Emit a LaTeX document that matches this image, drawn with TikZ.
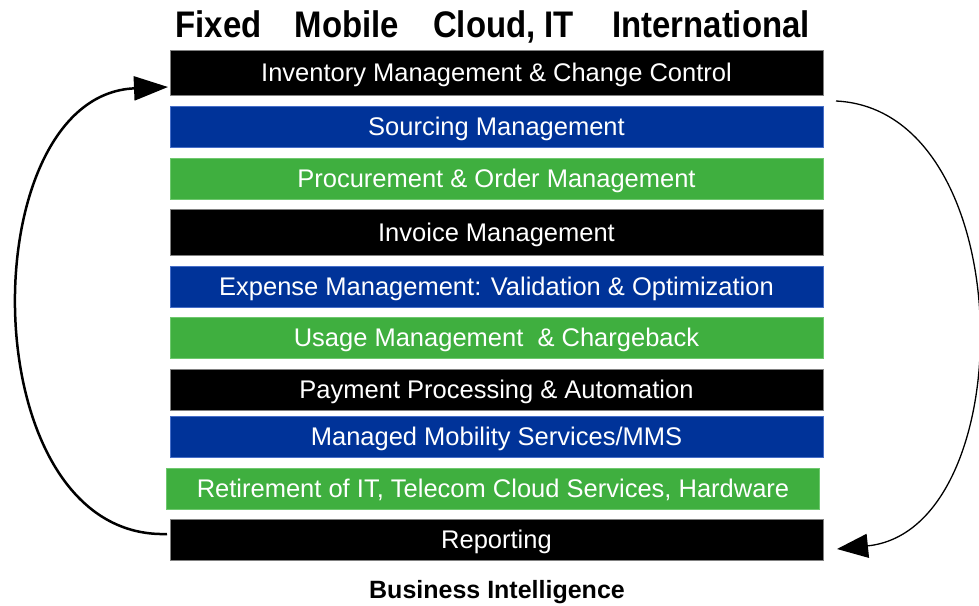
\documentclass[tikz,border=0pt]{standalone}
\usepackage{fontspec}
\setmainfont{Liberation Sans}
\newfontfamily\headfont[FakeStretch=0.89]{Liberation Sans}
\usetikzlibrary{arrows.meta}
\definecolor{bblue}{RGB}{0,51,153}
\definecolor{bgreen}{RGB}{63,175,63}
\definecolor{bblueline}{RGB}{70,110,200}
\definecolor{bgreenline}{RGB}{110,200,110}
\tikzset{
  bar/.style={minimum width=653pt, minimum height=41pt, inner sep=0pt,
    text=white, font=\fontsize{25.5}{27}\selectfont, text height=18pt, text depth=0pt, line width=0.8pt},
  barK/.style={bar, fill=black, draw=gray},
  barB/.style={bar, fill=bblue, draw=bblueline},
  barG/.style={bar, fill=bgreen, draw=bgreenline},
  head/.style={anchor=base, inner sep=0pt, font=\headfont\bfseries\fontsize{37}{40}\selectfont},
  foot/.style={anchor=base, inner sep=0pt, font=\bfseries\fontsize{25}{28}\selectfont},
}
\begin{document}
\begin{tikzpicture}[x=1pt,y=-1pt]
\useasboundingbox (0,0) rectangle (979,605);
\node[head] (h1) at (218.5,37) {Fixed};
\node[head] (h2) at (347,37) {Mobile};
\node[head] (h3) at (503.5,37) {Cloud, IT};
\node[head] (h4) at (711,37) {International};

\node[barK, minimum height=45pt] (inv) at (496.5,72.5) {Inventory Management \& Change Control};
\node[barB] (src) at (496.5,126.5) {Sourcing Management};
\node[barG] (proc) at (496.5,178.5) {Procurement \& Order Management};
\node[barK, minimum height=46pt] (invc) at (496.5,232) {Invoice Management};
\node[barB] (exp) at (496.5,286.5) {Expense Management: Validation \& Optimization};
\node[barG] (use) at (496.5,337.5) {Usage Management~ \& Chargeback};
\node[barK] (pay) at (496.5,389.5) {Payment Processing \& Automation};
\node[barB] (mms) at (496.5,436.5) {Managed Mobility Services/MMS};
\node[barG] (ret) at (493,488.5) {Retirement of IT, Telecom Cloud Services, Hardware};
\node[barK] (rep) at (496.5,539.5) {Reporting};

\node[foot] (bi) at (497,598) {Business Intelligence};

\coordinate (ls) at (167,534);
\coordinate (le) at (168,87);
\coordinate (rs) at (836,101);
\coordinate (re) at (837,549);

\draw[line width=2.5pt, -{Triangle[length=34pt,width=24pt]}]
  (ls) .. controls (-30,540) and (-30,95) .. (le);
\draw[line width=1.3pt, -{Triangle[length=31pt,width=24pt]}]
  (rs) .. controls (1023,110) and (1023,530) .. (re);
\end{tikzpicture}
\end{document}
